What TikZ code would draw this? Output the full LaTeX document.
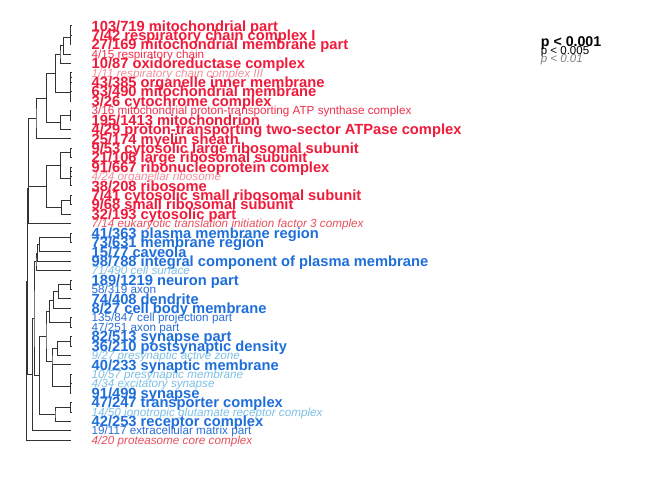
\documentclass[tikz,border=0pt]{standalone}
\usepackage{fontspec}
\setmainfont{Liberation Sans}
\usetikzlibrary{calc}
\definecolor{redB}{HTML}{F01A3A}
\definecolor{redP}{HTML}{F0304C}
\definecolor{redL}{HTML}{F0909C}
\definecolor{redM}{HTML}{E8505E}
\definecolor{bluB}{HTML}{1F6FDB}
\definecolor{bluP}{HTML}{2A6FD6}
\definecolor{bluL}{HTML}{7EC0E6}
\definecolor{treec}{HTML}{333333}
\newcommand\mrg[4]{%
  \coordinate (#1m) at ($(#2)!0.5!(#3)$);
  \coordinate (#1) at (#1m -| #4,0);
  \draw[tree] (#2) -| (#1) |- (#3);
}
\newcommand\lab[3]{\node[#2] (t#1) at ([xshift=20.5pt]l#1) {#3};}
\begin{document}
\begin{tikzpicture}[x=1pt,y=-1pt,
  tree/.style={draw=treec,line width=0.8pt},
  bld/.style={anchor=base west,inner sep=0pt,yshift=-5.3pt,font=\fontsize{14.7}{15}\selectfont\bfseries},
  pln/.style={anchor=base west,inner sep=0pt,yshift=-4.2pt,font=\fontsize{11.7}{12}\selectfont},
  itl/.style={anchor=base west,inner sep=0pt,yshift=-4.2pt,font=\fontsize{11.7}{12}\selectfont\itshape},
  legB/.style={anchor=base west,inner sep=0pt,font=\fontsize{14.2}{15}\selectfont\bfseries},
  legP/.style={anchor=base west,inner sep=0pt,font=\fontsize{11.5}{12}\selectfont},
  legI/.style={anchor=base west,inner sep=0pt,font=\fontsize{11.5}{12}\selectfont\itshape}]
\useasboundingbox (0,0) rectangle (672,480);
\fill[white] (0,0) rectangle (672,480);
\foreach \i in {1,...,45}{\coordinate (l\i) at (71,{25.7+9.42*(\i-1)});}
% red clusters
\mrg{a}{l1}{l2}{70.6}
\mrg{b}{a}{l3}{70.2}
\mrg{c}{b}{l4}{63.3}
\mrg{d}{c}{l5}{60}
\mrg{xa}{l6}{l7}{70.8}
\mrg{xb}{xa}{l8}{70.5}
\mrg{X}{xb}{l9}{70.2}
\mrg{e}{d}{X}{55.7}
\mrg{z}{l10}{l11}{70.2}
\mrg{Y}{z}{l12}{60.7}
\mrg{f}{e}{Y}{46.7}
\mrg{g}{f}{l13}{36}
\mrg{ra}{l14}{l15}{70.6}
\mrg{rb}{l16}{l17}{70.8}
\mrg{rc}{rb}{l18}{70.5}
\mrg{Ra}{ra}{rc}{60.7}
\mrg{rd}{l19}{l20}{70.6}
\mrg{Rb}{rd}{l21}{61.7}
\mrg{R}{Ra}{Rb}{46.7}
\mrg{h}{g}{R}{28.6}
\mrg{i}{h}{l22}{27.9}
% blue clusters
\mrg{ba}{l23}{l24}{70.6}
\mrg{bb}{ba}{l25}{39.3}
\mrg{bc}{bb}{l26}{37.3}
\mrg{B}{bc}{l27}{36}
\mrg{ca}{l28}{l29}{70.6}
\mrg{cb}{ca}{l30}{58.3}
\mrg{cc}{cb}{l31}{53.3}
\mrg{ce}{l32}{l33}{70.6}
\mrg{cd}{cc}{ce}{49.5}
\mrg{da}{l34}{l35}{70.6}
\mrg{db}{da}{l36}{57.3}
\mrg{dc}{l38}{l39}{70.6}
\mrg{dd}{dc}{l40}{70.2}
\mrg{de}{l37}{dd}{52.6}
\mrg{D}{db}{de}{52}
\mrg{fa}{cd}{D}{46}
\mrg{ea}{l41}{l42}{70.6}
\mrg{eb}{ea}{l43}{55}
\mrg{fb}{fa}{eb}{39.3}
\mrg{ga}{B}{fb}{34}
\mrg{gb}{ga}{l44}{32.7}
\mrg{j}{i}{gb}{27.4}
\mrg{root}{j}{l45}{26.8}
% labels
\lab{1}{bld,redB}{103/719 mitochondrial part}
\lab{2}{bld,redB}{7/42 respiratory chain complex I}
\lab{3}{bld,redB}{27/169 mitochondrial membrane part}
\lab{4}{pln,redP}{4/15 respiratory chain}
\lab{5}{bld,redB}{10/87 oxidoreductase complex}
\lab{6}{itl,redL}{1/11 respiratory chain complex III}
\lab{7}{bld,redB}{43/385 organelle inner membrane}
\lab{8}{bld,redB}{63/490 mitochondrial membrane}
\lab{9}{bld,redB}{3/26 cytochrome complex}
\lab{10}{pln,redP}{3/16 mitochondrial proton-transporting ATP synthase complex}
\lab{11}{bld,redB}{195/1413 mitochondrion}
\lab{12}{bld,redB}{4/29 proton-transporting two-sector ATPase complex}
\lab{13}{bld,redB}{25/174 myelin sheath}
\lab{14}{bld,redB}{9/53 cytosolic large ribosomal subunit}
\lab{15}{bld,redB}{21/106 large ribosomal subunit}
\lab{16}{bld,redB}{91/667 ribonucleoprotein complex}
\lab{17}{itl,redL}{4/24 organellar ribosome}
\lab{18}{bld,redB}{38/208 ribosome}
\lab{19}{bld,redB}{7/41 cytosolic small ribosomal subunit}
\lab{20}{bld,redB}{9/68 small ribosomal subunit}
\lab{21}{bld,redB}{32/193 cytosolic part}
\lab{22}{itl,redM}{7/14 eukaryotic translation initiation factor 3 complex}
\lab{23}{bld,bluB}{41/363 plasma membrane region}
\lab{24}{bld,bluB}{73/631 membrane region}
\lab{25}{bld,bluB}{15/77 caveola}
\lab{26}{bld,bluB}{98/788 integral component of plasma membrane}
\lab{27}{itl,bluL}{71/490 cell surface}
\lab{28}{bld,bluB}{189/1219 neuron part}
\lab{29}{pln,bluP}{58/319 axon}
\lab{30}{bld,bluB}{74/408 dendrite}
\lab{31}{bld,bluB}{8/27 cell body membrane}
\lab{32}{pln,bluP}{135/847 cell projection part}
\lab{33}{pln,bluP}{47/251 axon part}
\lab{34}{bld,bluB}{82/513 synapse part}
\lab{35}{bld,bluB}{36/210 postsynaptic density}
\lab{36}{itl,bluL}{9/27 presynaptic active zone}
\lab{37}{bld,bluB}{40/233 synaptic membrane}
\lab{38}{itl,bluL}{10/57 presynaptic membrane}
\lab{39}{itl,bluL}{4/34 excitatory synapse}
\lab{40}{bld,bluB}{91/499 synapse}
\lab{41}{bld,bluB}{47/247 transporter complex}
\lab{42}{itl,bluL}{14/50 ionotropic glutamate receptor complex}
\lab{43}{bld,bluB}{42/253 receptor complex}
\lab{44}{pln,bluP}{19/117 extracellular matrix part}
\lab{45}{itl,redM}{4/20 proteasome core complex}
% legend
\node[legB,black] (p1) at (540.7,46) {p < 0.001};
\node[legP,black] (p2) at (540.7,54.2) {p < 0.005};
\node[legI,gray] (p3) at (540.7,62.5) {p < 0.01};
\end{tikzpicture}
\end{document}
